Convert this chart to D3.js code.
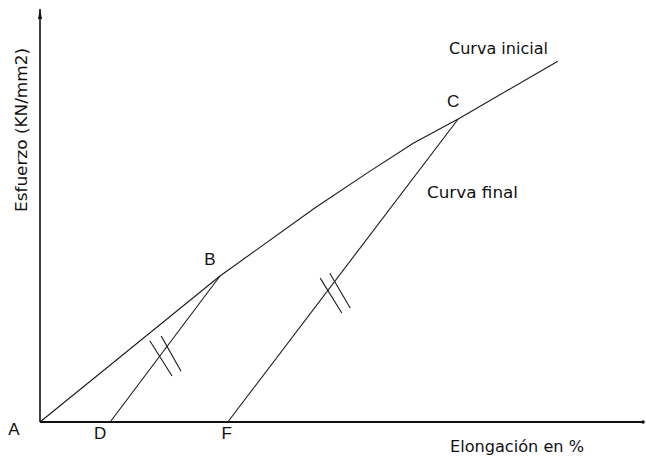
<!DOCTYPE html>
<html>
<head>
<meta charset="utf-8">
<script src="https://cdn.jsdelivr.net/npm/d3@7"></script>
<style>
  body { margin: 0; background: #fff; }
  text { font-family: "DejaVu Sans", "Liberation Sans", Arial, sans-serif; fill: #111; }
  .pt { font-family: "Liberation Sans", Arial, sans-serif; }
</style>
</head>
<body>
<div id="chart"></div>
<script>
// curve points (elongation %, stress), arbitrary 0-100 units
const curvaInicial = [
  [0, 0], [30, 35.6], [45.8, 52.2], [54.5, 60.7], [62.2, 68.0], [69.7, 73.9], [86.3, 88.0]
];
const descargaB = [[11.7, 0], [30, 35.6]];   // D -> B
const curvaFinal = [[31.3, 0], [69.7, 73.9]]; // F -> C

// the double tick marks on the unloading lines
const hatches = [
  [[18.3, 19.8], [22.0, 11.2]],
  [[20.2, 21.0], [23.5, 12.4]],
  [[46.7, 35.1], [50.3, 26.6]],
  [[48.3, 36.3], [51.7, 27.8]]
];

// point letters: name, x, y, dx, dy
const pointLabels = [
  ["A", 0, 0, -26, 13],
  ["B", 30, 35.6, -10, -11],
  ["C", 69.7, 73.9, -5, -12],
  ["D", 11.7, 0, -10, 17],
  ["F", 31.3, 0, -1, 17]
];

const width = 646, height = 457;

const x = d3.scaleLinear().domain([0, 100]).range([40, 640]);
const y = d3.scaleLinear().domain([0, 100]).range([422, 12]);

const svg = d3.select("#chart")
  .append("svg")
  .attr("width", width)
  .attr("height", height);

// axes (no ticks)
svg.append("line")
  .attr("x1", x(0)).attr("y1", y(0))
  .attr("x2", 644).attr("y2", y(0))
  .attr("stroke", "#111").attr("stroke-width", 2);
svg.append("circle")
  .attr("cx", 643).attr("cy", y(0)).attr("r", 1.8).attr("fill", "#111");

svg.append("line")
  .attr("x1", x(0)).attr("y1", y(0))
  .attr("x2", x(0)).attr("y2", 9)
  .attr("stroke", "#111").attr("stroke-width", 1.6);
svg.append("path")
  .attr("d", `M${x(0) - 2},19 L${x(0)},9 L${x(0) + 2},19 Z`)
  .attr("fill", "#111");

const line = d3.line()
  .x((d) => x(d[0]))
  .y((d) => y(d[1]));

svg.append("g")
  .selectAll("path")
  .data([curvaInicial, descargaB, curvaFinal])
  .join("path")
  .attr("d", line)
  .attr("fill", "none")
  .attr("stroke", "#1a1a1a")
  .attr("stroke-width", 1.1);

svg.append("g")
  .selectAll("path")
  .data(hatches)
  .join("path")
  .attr("d", line)
  .attr("stroke", "#1a1a1a")
  .attr("stroke-width", 1.1);

svg.append("g")
  .selectAll("text")
  .data(pointLabels)
  .join("text")
  .attr("class", "pt")
  .attr("x", (d) => x(d[1]) + d[3])
  .attr("y", (d) => y(d[2]) + d[4])
  .attr("text-anchor", "middle")
  .attr("font-size", 17)
  .text((d) => d[0]);

svg.append("text")
  .attr("x", 449).attr("y", 54)
  .attr("font-size", 16)
  .attr("textLength", 99)
  .attr("lengthAdjust", "spacingAndGlyphs")
  .text("Curva inicial");

svg.append("text")
  .attr("x", 427).attr("y", 198)
  .attr("font-size", 16)
  .attr("textLength", 91)
  .attr("lengthAdjust", "spacingAndGlyphs")
  .text("Curva final");

svg.append("text")
  .attr("x", 450).attr("y", 452)
  .attr("font-size", 16)
  .attr("textLength", 134)
  .attr("lengthAdjust", "spacingAndGlyphs")
  .text("Elongación en %");

svg.append("text")
  .attr("text-anchor", "middle")
  .attr("transform", "translate(27,130) rotate(-90)")
  .attr("font-size", 16)
  .attr("textLength", 164)
  .attr("lengthAdjust", "spacingAndGlyphs")
  .text("Esfuerzo (KN/mm2)");
</script>
</body>
</html>
